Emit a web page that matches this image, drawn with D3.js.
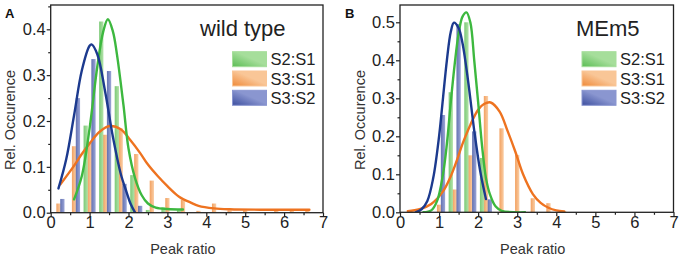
<!DOCTYPE html>
<html>
<head>
<meta charset="utf-8">
<script src="https://cdn.jsdelivr.net/npm/d3@7"></script>
<style>
  body { margin: 0; background: #fff; }
  svg { display: block; font-family: Arial, "Liberation Sans", sans-serif; }
  .axis text { font-size: 16.5px; fill: #222; }
  .axis line { stroke: #222; stroke-width: 1.2; }
</style>
</head>
<body>
<div id="chart"></div>
<script>
// ---- data ----
const seriesNames = ["S2:S1", "S3:S1", "S3:S2"];
const xTicks = [0, 1, 2, 3, 4, 5, 6, 7];
const yTicksA = [0, 0.1, 0.2, 0.3, 0.4];
const yTicksB = [0, 0.1, 0.2, 0.3, 0.4, 0.5];

// wild type histograms [peak ratio, rel. occurence]
const wtS2S1 = [[0.9, 0.19], [1.3, 0.417], [1.7, 0.276], [2.1, 0.082], [2.5, 0.006], [2.9, 0.012], [3.3, 0.005]];
const wtS3S1 = [[0.2, 0.02], [0.6, 0.145], [1.0, 0.155], [1.4, 0.17], [1.8, 0.184], [2.2, 0.128], [2.6, 0.07],
                [3.0, 0.032], [3.4, 0.029], [3.8, 0.004], [4.2, 0.02], [4.6, 0.005], [5.0, 0.005],
                [5.8, 0.005], [6.2, 0.005], [6.6, 0.005]];
const wtS3S2 = [[0.3, 0.03], [0.7, 0.25], [1.1, 0.335], [1.5, 0.309], [1.9, 0.063], [2.3, 0.015]];

// wild type fitted curves
const wtFitS2S1 = [[0.6, 0.029], [0.8, 0.08], [1.0, 0.184], [1.2, 0.32], [1.35, 0.395], [1.47, 0.422], [1.6, 0.395],
                   [1.7, 0.347], [1.87, 0.235], [2.0, 0.14], [2.17, 0.075], [2.34, 0.038], [2.5, 0.02],
                   [2.7, 0.011], [3.0, 0.008], [3.4, 0.007]];
const wtFitS3S1 = [[0.25, 0.062], [0.58, 0.1], [0.8, 0.128], [1.0, 0.151], [1.25, 0.176], [1.52, 0.189], [1.8, 0.182],
                   [2.04, 0.159], [2.3, 0.13], [2.5, 0.105], [2.75, 0.08], [3.0, 0.058], [3.3, 0.035],
                   [3.6, 0.022], [3.8, 0.015], [4.2, 0.0095], [4.6, 0.0075], [5.5, 0.0065], [6.65, 0.0065]];
const wtFitS3S2 = [[0.2, 0.053], [0.4, 0.117], [0.6, 0.212], [0.8, 0.31], [1.0, 0.364], [1.05, 0.367], [1.2, 0.345],
                   [1.4, 0.264], [1.6, 0.165], [1.8, 0.085], [1.95, 0.045], [2.05, 0.02], [2.17, 0.0]];

// MEm5 histograms
const meS2S1 = [[1.3, 0.316], [1.7, 0.50], [2.1, 0.143]];
const meS3S1 = [[1.0, 0.02], [1.4, 0.06], [1.8, 0.15], [2.2, 0.306], [2.6, 0.221], [3.0, 0.151], [3.4, 0.037],
                [3.8, 0.024], [4.2, 0.004]];
const meS3S2 = [[1.1, 0.256], [1.5, 0.495], [1.9, 0.213], [2.3, 0.034]];

// MEm5 fitted curves
const meFitS2S1 = [[0.6, 0.0], [0.8, 0.005], [0.95, 0.03], [1.1, 0.1], [1.2, 0.18], [1.3, 0.29], [1.4, 0.39],
                   [1.5, 0.47], [1.6, 0.515], [1.7, 0.526], [1.8, 0.5], [1.9, 0.4], [2.0, 0.29], [2.1, 0.175],
                   [2.2, 0.09], [2.3, 0.048], [2.45, 0.015], [2.6, 0.004], [3.2, 0.0]];
const meFitS3S1 = [[0.2, 0.003], [0.5, 0.008], [0.8, 0.022], [1.1, 0.055], [1.3, 0.095], [1.45, 0.135], [1.6, 0.18],
                   [1.8, 0.23], [2.0, 0.27], [2.15, 0.285], [2.32, 0.289], [2.55, 0.265], [2.75, 0.215],
                   [2.95, 0.16], [3.15, 0.1], [3.4, 0.048], [3.6, 0.025], [3.8, 0.012], [4.0, 0.005], [4.2, 0.002]];
const meFitS3S2 = [[0.4, 0.0], [0.55, 0.008], [0.7, 0.03], [0.85, 0.09], [1.0, 0.2], [1.1, 0.3], [1.2, 0.4],
                   [1.3, 0.475], [1.38, 0.499], [1.5, 0.485], [1.6, 0.445], [1.75, 0.34], [1.9, 0.215],
                   [2.05, 0.11], [2.2, 0.035]];

// ---- styling ----
const barColors = {
    "S2:S1": ["#5bbd55", "#a6de9b"],
    "S3:S1": ["#ef8a3a", "#f9c697"],
    "S3:S2": ["#3d4f9f", "#8a96d0"]
};
const lineColors = {"S2:S1": "#3db83f", "S3:S1": "#ee7320", "S3:S2": "#1c3a8e"};

const W = 680, H = 261;
const svg = d3.select("#chart").append("svg").attr("width", W).attr("height", H);
const defs = svg.append("defs");

seriesNames.forEach((s, i) => {
    // bars: horizontal soft gradient
    const g = defs.append("linearGradient").attr("id", "bar" + i)
        .attr("x1", "0%").attr("x2", "100%").attr("y1", "0%").attr("y2", "0%");
    g.append("stop").attr("offset", "0%").attr("stop-color", barColors[s][0]).attr("stop-opacity", 0.8);
    g.append("stop").attr("offset", "100%").attr("stop-color", barColors[s][1]).attr("stop-opacity", 0.85);
    // legend swatch: diagonal gradient
    const lg = defs.append("linearGradient").attr("id", "leg" + i)
        .attr("x1", "0%").attr("y1", "100%").attr("x2", "100%").attr("y2", "0%");
    lg.append("stop").attr("offset", "0%").attr("stop-color", barColors[s][0]);
    lg.append("stop").attr("offset", "55%").attr("stop-color", barColors[s][1]);
    lg.append("stop").attr("offset", "100%").attr("stop-color", barColors[s][1]);
});

const panels = [
    {letter: "A", title: "wild type", left: 50.7, right: 323, top: 5, bottom: 212.7, yMax: 0.453, yTicks: yTicksA,
     bars: [wtS2S1, wtS3S1, wtS3S2], fits: [wtFitS2S1, wtFitS3S1, wtFitS3S2],
     titleX: 200, legendX: 232.5, letterX: 5, ylabX: 15},
    {letter: "B", title: "MEm5", left: 400, right: 673.5, top: 5, bottom: 212.3, yMax: 0.5455, yTicks: yTicksB,
     bars: [meS2S1, meS3S1, meS3S2], fits: [meFitS2S1, meFitS3S1, meFitS3S2],
     titleX: 576, legendX: 582, letterX: 345, ylabX: 365}
];

panels.forEach((p, pi) => {
    const x = d3.scaleLinear().domain([0, 7]).range([p.left, p.right]);
    const y = d3.scaleLinear().domain([0, p.yMax]).range([p.bottom, p.top]);
    const g = svg.append("g");

    const clipId = "clip" + pi;
    defs.append("clipPath").attr("id", clipId).append("rect")
        .attr("x", p.left).attr("y", p.top).attr("width", p.right - p.left).attr("height", p.bottom - p.top);

    const plot = g.append("g").attr("clip-path", `url(#${clipId})`);
    const bw = x(0.11) - x(0);

    // bars, draw order: orange, green, blue
    [1, 0, 2].forEach(si => {
        plot.append("g").selectAll("rect")
            .data(p.bars[si])
            .join("rect")
            .attr("x", d => x(d[0]) - bw / 2)
            .attr("y", d => y(d[1]))
            .attr("width", bw)
            .attr("height", d => y(0) - y(d[1]))
            .attr("fill", `url(#bar${si})`);
    });

    const line = d3.line().x(d => x(d[0])).y(d => y(d[1])).curve(d3.curveCatmullRom.alpha(0.5));
    [1, 0, 2].forEach(si => {
        plot.append("path")
            .datum(p.fits[si])
            .attr("d", line)
            .attr("fill", "none")
            .attr("stroke", lineColors[seriesNames[si]])
            .attr("stroke-width", 2.4)
            .attr("stroke-linecap", "round");
    });

    // axes
    g.append("g").attr("class", "axis")
        .attr("transform", `translate(0,${p.bottom})`)
        .call(d3.axisBottom(x).tickValues(xTicks).tickSize(4).tickPadding(0).tickSizeOuter(0).tickFormat(d3.format("d")))
        .call(a => a.select(".domain").remove());
    g.append("g").attr("class", "axis")
        .attr("transform", `translate(0,${p.bottom})`)
        .call(d3.axisBottom(x).tickValues(d3.range(0.5, 7, 1)).tickSize(2.5).tickSizeOuter(0).tickFormat(""))
        .call(a => a.select(".domain").remove());
    g.append("g").attr("class", "axis")
        .attr("transform", `translate(${p.left},0)`)
        .call(d3.axisLeft(y).tickValues(p.yTicks).tickSize(4).tickPadding(1).tickSizeOuter(0).tickFormat(d3.format(".1f")))
        .call(a => a.select(".domain").remove());
    g.append("g").attr("class", "axis")
        .attr("transform", `translate(${p.left},0)`)
        .call(d3.axisLeft(y).tickValues(p.yTicks.map(v => v + 0.05).filter(v => v < p.yMax)).tickSize(2.5).tickSizeOuter(0).tickFormat(""))
        .call(a => a.select(".domain").remove());

    // frame
    g.append("rect")
        .attr("x", p.left).attr("y", p.top)
        .attr("width", p.right - p.left).attr("height", p.bottom - p.top)
        .attr("fill", "none").attr("stroke", "#222").attr("stroke-width", 1.3);

    // axis titles
    g.append("text")
        .attr("x", (p.left + p.right) / 2 - 4).attr("y", 254)
        .attr("text-anchor", "middle").attr("font-size", 14.5).attr("fill", "#333")
        .text("Peak ratio");
    g.append("text")
        .attr("transform", `translate(${p.ylabX},120) rotate(-90)`)
        .attr("text-anchor", "middle").attr("font-size", 14.5).attr("fill", "#333")
        .text("Rel. Occurence");

    // panel letter and title
    g.append("text").attr("x", p.letterX).attr("y", 18)
        .attr("font-size", 13).attr("font-weight", "bold").attr("fill", "#111").text(p.letter);
    g.append("text").attr("x", p.titleX).attr("y", 36)
        .attr("font-size", 22).attr("fill", "#222").text(p.title);

    // legend
    const leg = g.append("g");
    seriesNames.forEach((s, i) => {
        const cy = 59.2 + i * 19.3;
        leg.append("rect")
            .attr("x", p.legendX).attr("y", cy - 7.5)
            .attr("width", 34).attr("height", 15)
            .attr("fill", `url(#leg${i})`)
            .attr("stroke", barColors[s][1]).attr("stroke-width", 1);
        leg.append("text")
            .attr("x", p.legendX + 38).attr("y", cy + 6)
            .attr("font-size", 16.5).attr("fill", "#222")
            .text(s);
    });
});
</script>
</body>
</html>
